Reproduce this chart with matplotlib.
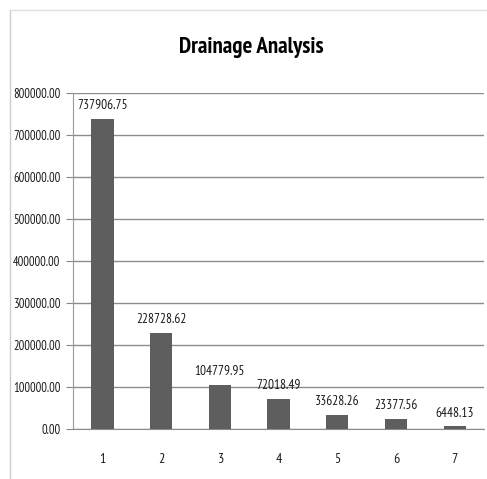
import matplotlib.pyplot as plt
from matplotlib.lines import Line2D

# Drainage totals per order
categories = ['1', '2', '3', '4', '5', '6', '7']
values = [737906.75, 228728.62, 104779.95, 72018.49, 33628.26, 23377.56, 6448.13]

plt.rcParams['font.family'] = ['PT Sans Narrow', 'DejaVu Sans']

fig = plt.figure(figsize=(4.87, 4.79), dpi=100)
ax = fig.add_axes([0.150, 0.104, 0.844, 0.702])

x = range(len(categories))
ax.bar(x, values, width=0.38, color='#5e5e5e', zorder=3)

for i, v in enumerate(values):
    ax.annotate(f'{v:.2f}', (i, v), xytext=(0, 5), textcoords='offset points',
                ha='center', va='bottom', fontsize=9.5, color='#1a1a1a')

ax.set_xlim(-0.5, len(categories) - 0.5)
ax.set_ylim(0, 800000)
ax.set_yticks(range(0, 800001, 100000))
ax.set_yticklabels([f'{t:.2f}' for t in range(0, 800001, 100000)], fontsize=9,
                   color='#1a1a1a')
ax.set_xticks(list(x))
ax.set_xticklabels(categories, fontsize=10, color='#1a1a1a')
ax.tick_params(axis='x', length=0, pad=17)
ax.tick_params(axis='y', length=5, color='#888888', pad=4)

ax.grid(axis='y', color='#8c8c8c', linewidth=1, zorder=0)
for side in ['top', 'right']:
    ax.spines[side].set_visible(False)
ax.spines['left'].set_color('#999999')
ax.spines['bottom'].set_color('#8c8c8c')

fig.text(0.516, 0.90, 'Drainage Analysis', ha='center', va='center',
         fontsize=16.5, fontweight='bold')

# outer chart frame
fig.add_artist(Line2D([0.021, 0.021], [0.0, 0.979], color='#cccccc', lw=1))
fig.add_artist(Line2D([0.021, 1.0], [0.979, 0.979], color='#e0e0e0', lw=1))

fig.savefig('out.png', dpi=100)
